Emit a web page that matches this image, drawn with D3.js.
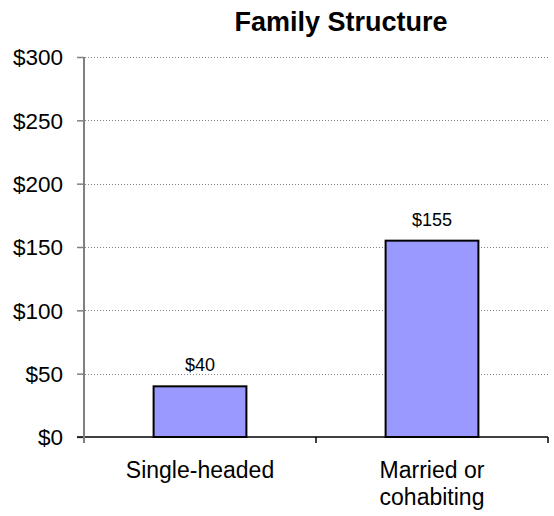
<!DOCTYPE html>
<html>
<head>
<meta charset="utf-8">
<script src="https://cdn.jsdelivr.net/npm/d3@7"></script>
<style>
  body { margin: 0; background: #fff; }
  svg { font-family: "Liberation Sans", Arial, sans-serif; }
</style>
</head>
<body>
<div class="chart"></div>
<script>
// 資料
const categories = [['Single-headed'], ['Married or', 'cohabiting']]
const values = [40, 155]
const yTicks = [0, 50, 100, 150, 200, 250, 300]
const title = 'Family Structure'

const svg_width = 554
const svg_height = 516
const margin = { top: 57, bottom: 79, right: 6, left: 84 }
const chart_width = svg_width - margin.left - margin.right
const chart_height = svg_height - margin.top - margin.bottom

const svg = d3.select('.chart').append('svg')
    .attr('width', svg_width).attr('height', svg_height)

const g = svg.append('g')
    .attr('transform', `translate(${margin.left},${margin.top})`)

// scale
const xScale = d3.scaleBand().domain(d3.range(categories.length))
    .range([0, chart_width]).paddingInner(0.6).paddingOuter(0.3)
const yScale = d3.scaleLinear().domain([0, 300]).range([chart_height, 0])

// 格線
g.append('g').selectAll('line').data(yTicks.filter(d => d > 0))
    .enter().append('line')
    .attr('x1', 1).attr('x2', chart_width)
    .attr('y1', d => Math.round(yScale(d)) + 0.5)
    .attr('y2', d => Math.round(yScale(d)) + 0.5)
    .style('stroke', '#808080').style('stroke-width', 1)
    .style('stroke-dasharray', '1,2')

// bars
g.selectAll('.bar').data(values).enter().append('rect')
    .attr('class', 'bar')
    .attr('x', (d, i) => xScale(i))
    .attr('y', d => yScale(d))
    .attr('width', xScale.bandwidth())
    .attr('height', d => chart_height - yScale(d))
    .style('fill', '#9999ff')
    .style('stroke', '#000').style('stroke-width', 2)

// 數值標籤
g.selectAll('.val').data(values).enter().append('text')
    .attr('x', (d, i) => xScale(i) + xScale.bandwidth() / 2)
    .attr('y', d => yScale(d) - 15)
    .attr('text-anchor', 'middle')
    .style('font-size', '18px')
    .text(d => '$' + d)

// y axis
const yAxis = d3.axisLeft(yScale).tickValues(yTicks)
    .tickFormat(d => '$' + d).tickSize(7).tickPadding(14).tickSizeOuter(0)
const yAxisDraw = g.append('g').call(yAxis)
yAxisDraw.select('.domain').remove()
yAxisDraw.selectAll('.tick line').style('stroke', '#808080').style('stroke-width', 1.5)
yAxisDraw.selectAll('.tick text')
    .style('font-size', '22.5px').style('fill', '#000')
    .attr('dy', '0.35em')

// x 基線與刻度
const step = chart_width / categories.length
g.append('line')
    .attr('x1', -7).attr('x2', chart_width)
    .attr('y1', chart_height).attr('y2', chart_height)
    .style('stroke', '#000').style('stroke-width', 1.5)
g.selectAll('.xtick').data(d3.range(1, categories.length + 1)).enter().append('line')
    .attr('x1', d => d * step).attr('x2', d => d * step)
    .attr('y1', chart_height).attr('y2', chart_height + 6)
    .style('stroke', '#000').style('stroke-width', 1.5)
g.append('line')
    .attr('x1', 0).attr('x2', 0)
    .attr('y1', 0).attr('y2', chart_height + 6)
    .style('stroke', '#808080').style('stroke-width', 2)

// x 標籤
const xLabels = g.selectAll('.xlabel').data(categories).enter().append('text')
    .attr('text-anchor', 'middle')
    .style('font-size', '23px')
    .attr('transform', (d, i) => `translate(${xScale(i) + xScale.bandwidth() / 2},${chart_height + 41})`)
xLabels.selectAll('tspan').data(d => d).enter().append('tspan')
    .attr('x', 0).attr('y', (d, i) => i * 27)
    .text(d => d)

// header
svg.append('text')
    .attr('x', 341).attr('y', 31)
    .attr('text-anchor', 'middle')
    .style('font-size', '27px').style('font-weight', 'bold')
    .text(title)
</script>
</body>
</html>
